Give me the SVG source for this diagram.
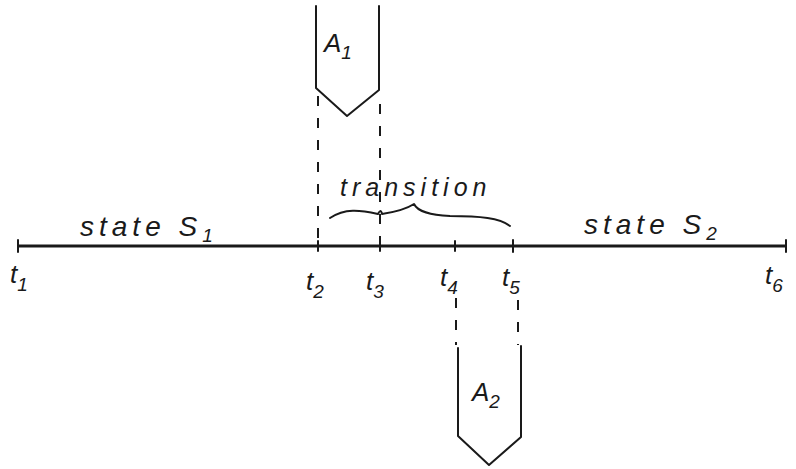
<svg xmlns="http://www.w3.org/2000/svg" width="796" height="469" viewBox="0 0 796 469">
<style>
.ln{stroke:#1a1a1a;stroke-width:2;fill:none;stroke-linecap:round;stroke-linejoin:round}
.ax{stroke:#1a1a1a;stroke-width:3;fill:none}
.dash{stroke:#1a1a1a;stroke-width:2;fill:none;stroke-dasharray:10 12}
.t{font-family:"Liberation Sans",Arial,sans-serif;font-style:italic;fill:#1a1a1a;font-size:26px}
.s{font-size:19px}
.w{font-size:28px;letter-spacing:5px}
</style>
<rect width="796" height="469" fill="#fff"/>
<g id="connectors">
<line class="ax" x1="18" y1="246" x2="786" y2="246"/>
<path class="ln" d="M18 240V252M318 241V251M380 241V251M455 241V251M513 240V252M786 240V252"/>
<line class="dash" x1="318" y1="96" x2="318" y2="246"/>
<line class="dash" x1="380" y1="104" x2="380" y2="246"/>
<line class="dash" x1="456" y1="298" x2="456" y2="345"/>
<line class="dash" x1="518" y1="300" x2="518" y2="345"/>
<path class="ln" d="M330 218C345 208 360 210 378 214C380 210 381 210 382 214C395 212 408 208 414 204C418 212 430 215 450 216C480 216 500 218 510 226"/>
</g>
<g id="A1">
<path class="ln" d="M316 6V88L347 116L379 90V6"/>
<text class="t" x="324" y="52">A<tspan class="s" dy="7">1</tspan></text>
</g>
<g id="A2">
<path class="ln" d="M458 348V436L489 465L521 437V346"/>
<text class="t" x="472" y="401">A<tspan class="s" dy="7">2</tspan></text>
</g>
<g id="labels">
<text class="t w" x="80" y="236">state S<tspan class="s" dy="6">1</tspan></text>
<text class="t w" x="584" y="234">state S<tspan class="s" dy="6">2</tspan></text>
<text class="t w" x="340" y="196" style="font-size:25px;letter-spacing:5px">transition</text>
<text class="t" x="10" y="283">t<tspan class="s" dy="8">1</tspan></text>
<text class="t" x="306" y="290">t<tspan class="s" dy="8">2</tspan></text>
<text class="t" x="366" y="290">t<tspan class="s" dy="8">3</tspan></text>
<text class="t" x="440" y="286">t<tspan class="s" dy="8">4</tspan></text>
<text class="t" x="502" y="286">t<tspan class="s" dy="8">5</tspan></text>
<text class="t" x="765" y="284">t<tspan class="s" dy="8">6</tspan></text>
</g>
</svg>
